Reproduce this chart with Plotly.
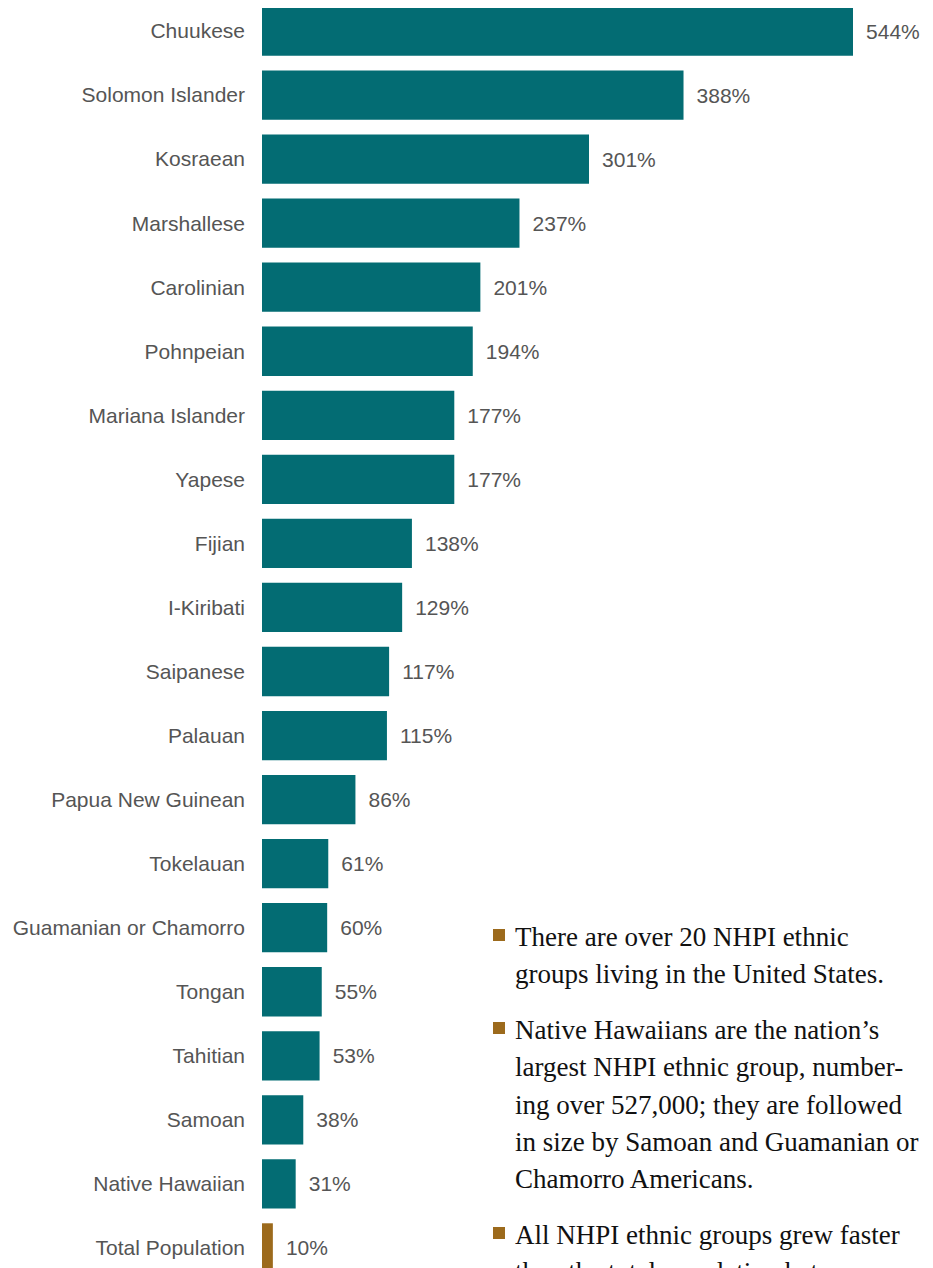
import plotly.graph_objects as go

categories = ["Chuukese", "Solomon Islander", "Kosraean", "Marshallese", "Carolinian",
              "Pohnpeian", "Mariana Islander", "Yapese", "Fijian", "I-Kiribati",
              "Saipanese", "Palauan", "Papua New Guinean", "Tokelauan",
              "Guamanian or Chamorro", "Tongan", "Tahitian", "Samoan",
              "Native Hawaiian", "Total Population"]
growth_pct = [544, 388, 301, 237, 201, 194, 177, 177, 138, 129, 117, 115, 86, 61, 60, 55, 53, 38, 31, 10]

bullets = [
    ["There are over 20 NHPI ethnic", "groups living in the United States."],
    ["Native Hawaiians are the nation\u2019s", "largest NHPI ethnic group, number-",
     "ing over 527,000; they are followed", "in size by Samoan and Guamanian or",
     "Chamorro Americans."],
    ["All NHPI ethnic groups grew faster", "than the total population between"],
]
bullet_first_baselines = [945, 1038, 1243]

TEAL = "#036C73"
BROWN = "#9C6A1C"
GREY = "#555555"
OFF = 8  # page body margin in the browser
W, H = 933 - OFF, 1268 - OFF
ML = 262 - OFF

colors = [TEAL] * (len(categories) - 1) + [BROWN]

fig = go.Figure(go.Bar(
    x=growth_pct, y=categories, orientation="h",
    marker=dict(color=colors, line=dict(width=0)),
    width=0.77,
    text=[f" \u2009{v}%" for v in growth_pct],
    textposition="outside", cliponaxis=False,
    textfont=dict(family="Liberation Sans, Arial, sans-serif", size=21, color=GREY),
    hoverinfo="skip",
))

px_per_unit = 591 / 544.0
plot_w = W - ML
row = 64.05
top_val = -(31 - OFF) / row
bot_val = top_val + H / row

fig.update_xaxes(range=[0, plot_w / px_per_unit], visible=False, showgrid=False, zeroline=False)
fig.update_yaxes(range=[bot_val, top_val], categoryorder="array", categoryarray=categories,
                 showgrid=False, zeroline=False, showline=False, ticks="",
                 ticklabelstandoff=16,
                 tickfont=dict(family="Liberation Sans, Arial, sans-serif", size=21, color=GREY))


def px_x(p):
    return (p - OFF - ML) / plot_w


def px_y(p):
    return 1 - (p - OFF) / H


annotations = []
shapes = []
LS = 37.3
FS = 27
for lines, b0 in zip(bullets, bullet_first_baselines):
    shapes.append(dict(type="rect", xref="paper", yref="paper",
                       x0=px_x(493), x1=px_x(505), y0=px_y(b0 - 16), y1=px_y(b0 - 4),
                       fillcolor=BROWN, line=dict(width=0)))
    for i, ln in enumerate(lines):
        base = b0 + i * LS
        annotations.append(dict(text=ln, xref="paper", yref="paper",
                                x=px_x(513), y=px_y(base - 8), xanchor="left", yanchor="middle",
                                showarrow=False, align="left",
                                font=dict(family="Liberation Serif, Times New Roman, serif",
                                          size=FS, color="#111111")))

fig.update_layout(
    width=W, height=H,
    margin=dict(l=ML, r=0, t=0, b=0, autoexpand=False),
    paper_bgcolor="white", plot_bgcolor="white",
    showlegend=False, bargap=0.23,
    annotations=annotations, shapes=shapes,
)

fig.write_html("out.html")
